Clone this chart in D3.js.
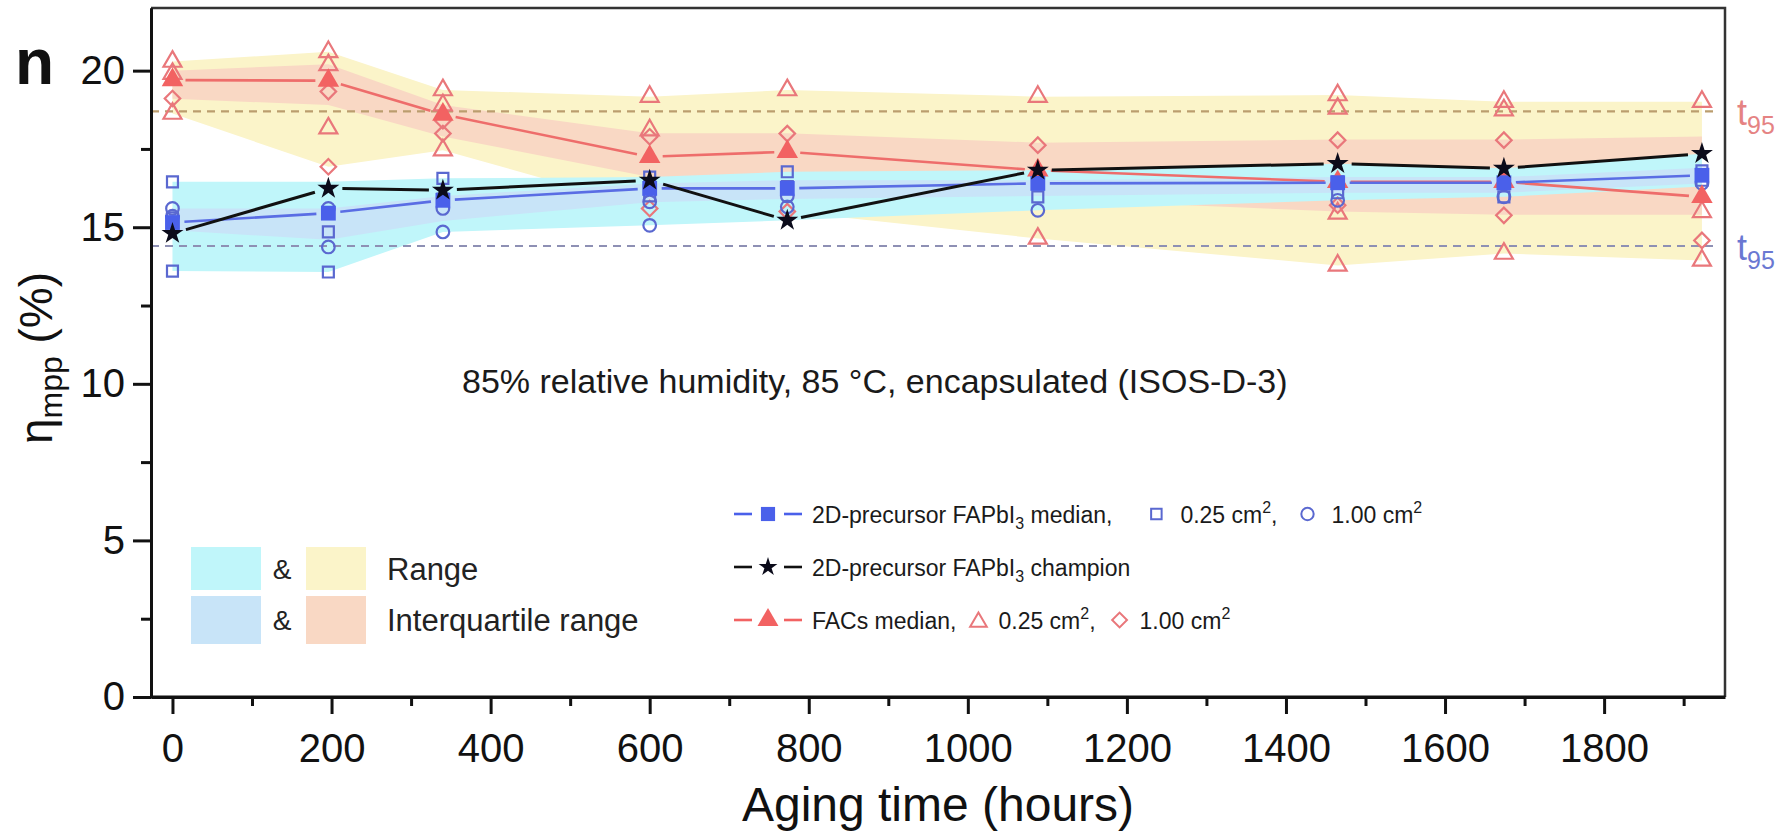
<!DOCTYPE html>
<html>
<head>
<meta charset="utf-8">
<script src="https://cdn.jsdelivr.net/npm/d3@7"></script>
<style>
  body { margin: 0; background: #fff; }
  svg { font-family: "Liberation Sans", Arial, sans-serif; }
</style>
</head>
<body>
<div id="chart"></div>
<script>
// aging time of each measurement (hours)
const hours = [0, 196, 340, 600, 773, 1088, 1465, 1674, 1923];

// medians and champion (%)
const precursorMedian = [15.15, 15.45, 15.86, 16.24, 16.24, 16.40, 16.42, 16.42, 16.66];
const precursorChampion = [14.80, 16.24, 16.18, 16.50, 15.22, 16.82, 17.03, 16.88, 17.35];
const facsMedian = [19.70, 19.68, 18.60, 17.25, 17.41, 16.82, 16.45, 16.45, 15.97];

// individual devices per time point
const precursorSmall = [[16.45, 15.30, 13.60], [14.85, 13.57], [16.56, 15.90], [16.60, 16.00], [16.77, 16.30], [16.45, 15.97], [16.45, 16.10], [16.40, 15.97], [16.80, 16.50]];
const precursorLarge = [[15.60, 15.35], [15.60, 14.37], [15.60, 14.85], [15.81, 15.06], [16.00, 15.65], [15.54], [15.86], [15.97], [16.40]];
const facsSmall = [[20.29, 19.90, 18.63], [20.60, 20.18, 18.16], [19.38, 18.90, 17.46], [19.17, 18.10], [19.38], [19.17, 14.64], [19.22, 18.79, 15.44, 13.78], [19.01, 18.74, 14.16], [19.01, 15.49, 13.94]];
const facsLarge = [[19.11], [19.33, 16.93], [18.40, 17.99], [17.89, 15.60], [17.99, 15.50], [17.62], [17.78, 15.70], [17.78, 15.38], [14.58]];

// range and interquartile bands
const precursorRangeLow = [13.60, 13.57, 14.85, 15.06, 15.22, 15.54, 15.86, 15.97, 16.30];
const precursorRangeHigh = [16.45, 16.45, 16.56, 16.60, 16.77, 16.82, 17.03, 16.88, 17.35];
const precursorIqrLow = [14.90, 14.60, 15.20, 15.80, 15.90, 16.00, 16.10, 16.10, 16.40];
const precursorIqrHigh = [15.60, 15.60, 16.00, 16.40, 16.50, 16.50, 16.60, 16.60, 16.90];
const facsRangeLow = [18.63, 16.93, 17.46, 15.60, 15.50, 14.64, 13.78, 14.16, 13.94];
const facsRangeHigh = [20.29, 20.60, 19.38, 19.17, 19.38, 19.17, 19.22, 19.01, 19.01];
const facsIqrLow = [19.10, 18.90, 17.90, 16.60, 16.50, 15.90, 15.50, 15.40, 15.40];
const facsIqrHigh = [20.00, 20.20, 18.90, 18.00, 18.00, 17.70, 17.80, 17.80, 17.90];

// t95 thresholds
const t95Facs = 18.7;
const t95Precursor = 14.4;

// ticks
const xMajorTicks = [0, 200, 400, 600, 800, 1000, 1200, 1400, 1600, 1800];
const xMinorTicks = [100, 300, 500, 700, 900, 1100, 1300, 1500, 1700, 1900];
const yMajorTicks = [0, 5, 10, 15, 20];
const yMinorTicks = [2.5, 7.5, 12.5, 17.5];

const width = 1784, height = 833;
const plot = { left: 151, right: 1725, top: 8, bottom: 697 };

const col = {
  blue: '#5a6de4', blueFill: '#4a60ea', blueOpen: '#5a68d0',
  red: '#ee6d6b', redFill: '#f26262', redOpen: '#e9777b',
  cyan: '#c0f6fa', lightBlue: '#c8e4f8', yellow: '#fbf4c9', peach: '#f9d8c4',
  redDash: '#bb9d6e', blueDash: '#8e90b4'
};

const x = d3.scaleLinear().domain([-27, 1952]).range([plot.left, plot.right]);
const y = d3.scaleLinear().domain([0, 22]).range([plot.bottom, plot.top]);

const svg = d3.select('#chart').append('svg')
  .attr('width', width)
  .attr('height', height);

// bands
function band(low, high, fill) {
  const area = d3.area()
    .x((d, i) => x(hours[i]))
    .y0((d, i) => y(low[i]))
    .y1((d, i) => y(high[i]));
  svg.append('path').attr('d', area(hours)).attr('fill', fill);
}
band(facsRangeLow, facsRangeHigh, col.yellow);
band(facsIqrLow, facsIqrHigh, col.peach);
band(precursorRangeLow, precursorRangeHigh, col.cyan);
band(precursorIqrLow, precursorIqrHigh, col.lightBlue);

// t95 dashed lines
[[t95Facs, col.redDash], [t95Precursor, col.blueDash]].forEach(([v, c]) => {
  svg.append('line')
    .attr('x1', plot.left).attr('x2', plot.right - 6)
    .attr('y1', y(v)).attr('y2', y(v))
    .attr('stroke', c).attr('stroke-width', 2.2)
    .attr('stroke-dasharray', '8,6');
});

// open markers for single devices
function openMarkers(list, type, size, stroke, rotate) {
  const pts = [];
  list.forEach((vals, i) => vals.forEach(v => pts.push([hours[i], v])));
  svg.append('g').selectAll('path')
    .data(pts)
    .join('path')
      .attr('d', d3.symbol(type, size)())
      .attr('transform', d => `translate(${x(d[0])},${y(d[1])}) rotate(${rotate || 0})`)
      .attr('fill', 'none')
      .attr('stroke', stroke)
      .attr('stroke-width', 2.2);
}
openMarkers(facsSmall, d3.symbolTriangle, 140, col.redOpen);
openMarkers(facsLarge, d3.symbolSquare, 120, col.redOpen, 45);
openMarkers(precursorSmall, d3.symbolSquare, 120, col.blueOpen);
openMarkers(precursorLarge, d3.symbolCircle, 125, col.blueOpen);

// connecting lines, cut short around markers
function gappedLine(vals, stroke, w, gap) {
  const segs = d3.pairs(hours.map((h, i) => [x(h), y(vals[i])]));
  svg.append('g').selectAll('line')
    .data(segs)
    .join('line')
      .each(function([a, b]) {
        const dx = b[0] - a[0], dy = b[1] - a[1];
        const len = Math.hypot(dx, dy);
        const ux = dx / len, uy = dy / len;
        d3.select(this)
          .attr('x1', a[0] + ux * gap).attr('y1', a[1] + uy * gap)
          .attr('x2', b[0] - ux * gap).attr('y2', b[1] - uy * gap);
      })
      .attr('stroke', stroke)
      .attr('stroke-width', w);
}
gappedLine(facsMedian, col.red, 2.6, 13);
gappedLine(precursorMedian, col.blue, 2.6, 12);
gappedLine(precursorChampion, '#111', 3, 14);

// filled markers
function filledMarkers(vals, type, size, fill) {
  svg.append('g').selectAll('path')
    .data(vals)
    .join('path')
      .attr('d', d3.symbol(type, size)())
      .attr('transform', (d, i) => `translate(${x(hours[i])},${y(d)})`)
      .attr('fill', fill);
}
filledMarkers(facsMedian, d3.symbolTriangle, 200, col.redFill);
filledMarkers(precursorMedian, d3.symbolSquare, 220, col.blueFill);
filledMarkers(precursorChampion, d3.symbolStar, 150, '#0b0b1a');

// frame
svg.append('path')
  .attr('d', `M${plot.left},${plot.top}H${plot.right}V${plot.bottom}`)
  .attr('fill', 'none').attr('stroke', '#333').attr('stroke-width', 2.5);

// axes
const xAxis = svg.append('g')
  .attr('transform', `translate(0,${plot.bottom})`)
  .call(d3.axisBottom(x).tickValues(xMajorTicks).tickFormat(d3.format('d'))
    .tickSize(17).tickPadding(20).tickSizeOuter(0));
svg.append('g')
  .attr('transform', `translate(0,${plot.bottom})`)
  .call(d3.axisBottom(x).tickValues(xMinorTicks).tickSize(9).tickFormat('').tickSizeOuter(0));
const yAxis = svg.append('g')
  .attr('transform', `translate(${plot.left},0)`)
  .call(d3.axisLeft(y).tickValues(yMajorTicks).tickSize(18).tickPadding(8).tickSizeOuter(0));
svg.append('g')
  .attr('transform', `translate(${plot.left},0)`)
  .call(d3.axisLeft(y).tickValues(yMinorTicks).tickSize(10).tickFormat('').tickSizeOuter(0));

svg.selectAll('.domain, .tick line').attr('stroke', '#111').attr('stroke-width', 3);
xAxis.selectAll('.domain').attr('d', `M${plot.left},0H${plot.right}`);
xAxis.selectAll('text').attr('font-size', 40).attr('font-family', '"Liberation Sans", Arial').attr('fill', '#111');
yAxis.selectAll('text').attr('font-size', 40).attr('font-family', '"Liberation Sans", Arial').attr('fill', '#111');

// axis titles
svg.append('text')
  .attr('x', (plot.left + plot.right) / 2).attr('y', 821)
  .attr('text-anchor', 'middle').attr('font-size', 48).attr('fill', '#111')
  .text('Aging time (hours)');

const yTitle = svg.append('text')
  .attr('transform', 'translate(52,358) rotate(-90)')
  .attr('text-anchor', 'middle').attr('font-size', 46).attr('fill', '#111');
yTitle.append('tspan').text('η');
yTitle.append('tspan').attr('font-size', 32).attr('dy', 10).text('mpp');
yTitle.append('tspan').attr('dy', -10).text(' (%)');

svg.append('text')
  .attr('x', 15).attr('y', 84)
  .attr('font-size', 64).attr('font-weight', 'bold').attr('fill', '#111')
  .text('n');

// condition note
svg.append('text')
  .attr('x', 462).attr('y', 393)
  .attr('font-size', 34).attr('fill', '#1a1a1a')
  .text('85% relative humidity, 85 °C, encapsulated (ISOS-D-3)');

// t95 labels
[[t95Facs, '#e58383'], [t95Precursor, '#6a78d2']].forEach(([v, c]) => {
  const t = svg.append('text')
    .attr('x', plot.right + 12).attr('y', y(v) + 14)
    .attr('font-size', 36).attr('fill', c);
  t.append('tspan').text('t');
  t.append('tspan').attr('font-size', 25).attr('dy', 9).text('95');
});

// left legend: bands
const bandLegend = [
  { y: 547, h: 43, left: col.cyan, right: col.yellow, label: 'Range' },
  { y: 596, h: 48, left: col.lightBlue, right: col.peach, label: 'Interquartile range' }
];
bandLegend.forEach(r => {
  svg.append('rect').attr('x', 191).attr('y', r.y).attr('width', 70).attr('height', r.h).attr('fill', r.left);
  svg.append('rect').attr('x', 306).attr('y', r.y).attr('width', 60).attr('height', r.h).attr('fill', r.right);
  svg.append('text').attr('x', 282).attr('y', r.y + r.h / 2 + 10)
    .attr('text-anchor', 'middle').attr('font-size', 28).attr('fill', '#222').text('&');
  svg.append('text').attr('x', 387).attr('y', r.y + r.h / 2 + 11)
    .attr('font-size', 31).attr('fill', '#222').text(r.label);
});

// right legend: series
const legendFont = 23;
const legendRows = [514, 567, 620];
const symX = 768, textX = 812;

function legendSymbol(cy, color, type, size) {
  svg.append('line').attr('x1', symX - 34).attr('x2', symX - 16).attr('y1', cy).attr('y2', cy)
    .attr('stroke', color).attr('stroke-width', 2.6);
  svg.append('line').attr('x1', symX + 16).attr('x2', symX + 34).attr('y1', cy).attr('y2', cy)
    .attr('stroke', color).attr('stroke-width', 2.6);
  svg.append('path').attr('d', d3.symbol(type, size)())
    .attr('transform', `translate(${symX},${cy})`).attr('fill', color === '#111' ? '#0b0b1a' : color);
}
function openSymbol(cx, cy, type, size, stroke, rotate) {
  svg.append('path').attr('d', d3.symbol(type, size)())
    .attr('transform', `translate(${cx},${cy}) rotate(${rotate || 0})`)
    .attr('fill', 'none').attr('stroke', stroke).attr('stroke-width', 2);
}
function legendText(tx, cy, parts) {
  const t = svg.append('text').attr('x', tx).attr('y', cy + 9)
    .attr('font-size', legendFont).attr('fill', '#1a1a1a');
  parts.forEach(p => {
    if (p.sub) t.append('tspan').attr('font-size', 16).attr('dy', 6).text(p.sub);
    else if (p.sup) t.append('tspan').attr('font-size', 16).attr('dy', -10).text(p.sup);
    else t.append('tspan').attr('dy', p.dy || 0).text(p.t);
  });
  const b = t.node().getBBox();
  return b.x + b.width;
}

legendSymbol(legendRows[0], col.blueFill, d3.symbolSquare, 200);
let end = legendText(textX, legendRows[0], [{ t: '2D-precursor FAPbI' }, { sub: '3' }, { t: ' median,', dy: -6 }]);
openSymbol(end + 44, legendRows[0], d3.symbolSquare, 110, col.blueOpen);
end = legendText(end + 68, legendRows[0], [{ t: '0.25 cm' }, { sup: '2' }, { t: ',', dy: 10 }]);
openSymbol(end + 30, legendRows[0], d3.symbolCircle, 120, col.blueOpen);
legendText(end + 54, legendRows[0], [{ t: '1.00 cm' }, { sup: '2' }]);

legendSymbol(legendRows[1], '#111', d3.symbolStar, 110);
legendText(textX, legendRows[1], [{ t: '2D-precursor FAPbI' }, { sub: '3' }, { t: ' champion', dy: -6 }]);

legendSymbol(legendRows[2], col.redFill, d3.symbolTriangle, 190);
end = legendText(textX, legendRows[2], [{ t: 'FACs median,' }]);
openSymbol(end + 22, legendRows[2] + 2, d3.symbolTriangle, 120, col.redOpen);
end = legendText(end + 42, legendRows[2], [{ t: '0.25 cm' }, { sup: '2' }, { t: ',', dy: 10 }]);
openSymbol(end + 24, legendRows[2], d3.symbolSquare, 110, col.redOpen, 45);
legendText(end + 44, legendRows[2], [{ t: '1.00 cm' }, { sup: '2' }]);
</script>
</body>
</html>
